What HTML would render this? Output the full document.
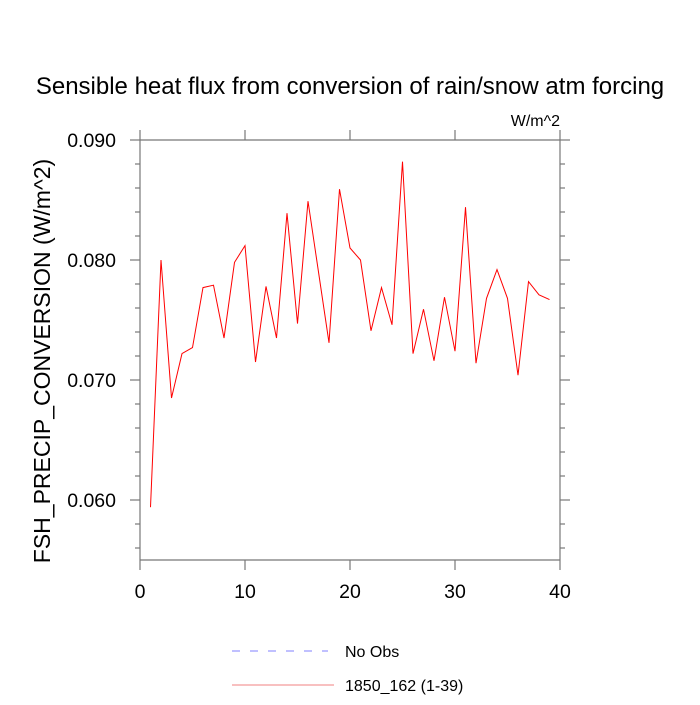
<!DOCTYPE html>
<html><head><meta charset="utf-8"><style>
html,body{margin:0;padding:0;background:#fff;}
svg text{font-family:"Liberation Sans",Arial,sans-serif;fill:#000;}
</style></head><body>
<svg id="chart" width="700" height="700" viewBox="0 0 700 700">
<text x="350" y="94" font-size="24" text-anchor="middle">Sensible heat flux from conversion of rain/snow atm forcing</text>
<text x="560" y="126" font-size="16" text-anchor="end">W/m^2</text>
<text transform="translate(50,361) rotate(-90)" font-size="23" text-anchor="middle">FSH_PRECIP_CONVERSION  (W/m^2)</text>
<g id="axes"></g>
<polyline id="series" fill="none" stroke="#ff0000" stroke-width="1"></polyline>
<line x1="232" y1="651" x2="328" y2="651" stroke="#8080ff" stroke-width="1" stroke-dasharray="8,10"/>
<text x="345" y="657" font-size="16">No Obs</text>
<line x1="232" y1="685" x2="334" y2="685" stroke="#f08080" stroke-width="1"/>
<text x="345" y="691" font-size="16">1850_162 (1-39)</text>
</svg>
<script>
const xs = [1,2,3,4,5,6,7,8,9,10,11,12,13,14,15,16,17,18,19,20,21,22,23,24,25,26,27,28,29,30,31,32,33,34,35,36,37,38,39];
const values = [0.0594,0.0800,0.0685,0.0722,0.0727,0.0777,0.0779,0.0735,0.0798,0.0812,0.0715,0.0778,0.0735,0.0839,0.0747,0.0849,0.0790,0.0731,0.0859,0.0810,0.0800,0.0741,0.0777,0.0746,0.0882,0.0722,0.0759,0.0716,0.0769,0.0724,0.0844,0.0714,0.0768,0.0792,0.0768,0.0704,0.0782,0.0771,0.0767];
const xTicks = [0,10,20,30,40];
const yTicks = [0.060,0.070,0.080,0.090];
const yTickLabels = ["0.060","0.070","0.080","0.090"];
const yMinor = [0.056,0.058,0.062,0.064,0.066,0.068,0.072,0.074,0.076,0.078,0.082,0.084,0.086,0.088];
const L=140,R=560,T=140,B=560, xMin=0,xMax=40,yMin=0.055,yMax=0.090;
function sx(v){return L+(v-xMin)/(xMax-xMin)*(R-L);}
function sy(v){return B-(v-yMin)/(yMax-yMin)*(B-T);}
const NS="http://www.w3.org/2000/svg";
const g=document.getElementById('axes');
function ln(x1,y1,x2,y2,name){const e=document.createElementNS(NS,'line');
e.setAttribute('x1',x1);e.setAttribute('y1',y1);e.setAttribute('x2',x2);e.setAttribute('y2',y2);
e.setAttribute('stroke','#777');e.setAttribute('stroke-width','1.2');


g.appendChild(e);}
function tx(x,y,s,anchor,name){const e=document.createElementNS(NS,'text');
e.setAttribute('x',x);e.setAttribute('y',y);e.setAttribute('font-size','19.5');e.setAttribute('text-anchor',anchor);e.textContent=s;


g.appendChild(e);}
ln(L,T,R,T,'plot-frame-top');ln(L,B,R,B,'plot-frame-bottom');ln(L,T,L,B,'plot-frame-left');ln(R,T,R,B,'plot-frame-right');
xTicks.forEach(v=>{const x=sx(v);ln(x,B,x,B+10,'x-tick');ln(x,T,x,T-10,'x-tick-top');tx(x,598,String(v),'middle','x-tick-label');});
yTicks.forEach((v,i)=>{const y=sy(v);ln(L-10,y,L,y,'y-tick');ln(R,y,R+10,y,'y-tick-right');tx(116,y+7,yTickLabels[i],'end','y-tick-label');});
yMinor.forEach(v=>{const y=sy(v);ln(L-5,y,L,y,'y-minor-tick');ln(R,y,R+5,y,'y-minor-tick-right');});
document.getElementById('series').setAttribute('points',xs.map((x,i)=>sx(x)+','+sy(values[i])).join(' '));
</script>
</body></html>
